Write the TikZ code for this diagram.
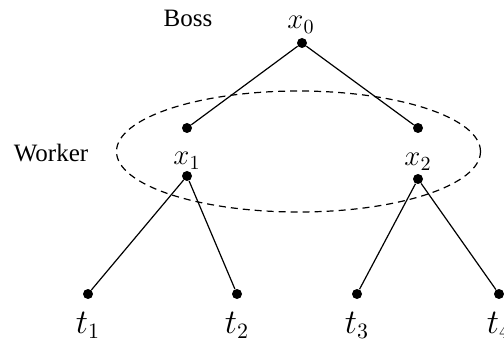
\documentclass[tikz,border=0pt]{standalone}
\usepackage{amsmath}
\usepackage{fontspec}
\setmainfont{Liberation Serif}
\usetikzlibrary{positioning}

\begin{document}
\begin{tikzpicture}[x=0.5pt, y=-0.5pt,
    dot/.style={circle, fill=black, inner sep=0pt, minimum size=5pt},
    edge/.style={line width=0.6pt},
    tag/.style={anchor=base, inner sep=0pt, font=\rmfamily\fontsize{12.5}{15}\selectfont},
    var/.style={anchor=base, inner sep=0pt, font=\fontsize{14}{16}\selectfont},
    leaf/.style={anchor=base, inner sep=0pt, font=\fontsize{16}{18}\selectfont}]
    \clip (0,0) rectangle (504,342);

    \node[dot] (x0) at (302,43) {};
    \node[dot] (x1top) at (187,128) {};
    \node[dot] (x2top) at (418,128) {};
    \node[dot] (x1) at (187,176) {};
    \node[dot] (x2) at (418,179) {};
    \node[dot] (t1) at (88,294) {};
    \node[dot] (t2) at (237,294) {};
    \node[dot] (t3) at (357,294) {};
    \node[dot] (t4) at (499,294) {};

    \node[tag] (boss) at (188,27) {Boss};
    \node[tag] (worker) at (51,162) {Worker};
    \node[var] (x0lab) at (301,29) {$x_0$};
    \node[var] (x1lab) at (187,165) {$x_1$};
    \node[var] (x2lab) at (418,166) {$x_2$};
    \node[leaf] (t1lab) at (88,333) {$t_1$};
    \node[leaf] (t2lab) at (237,333) {$t_2$};
    \node[leaf] (t3lab) at (357,333) {$t_3$};
    \node[leaf] (t4lab) at (499,333) {$t_4$};

    \draw[edge] (x0) -- (x1top);
    \draw[edge] (x0) -- (x2top);
    \draw[edge] (x1) -- (t1);
    \draw[edge] (x1) -- (t2);
    \draw[edge] (x2) -- (t3);
    \draw[edge] (x2) -- (t4);

    \draw[edge, dash pattern=on 3.5pt off 2.5pt] (298.5,151.5) ellipse [x radius=91pt, y radius=30.25pt];
\end{tikzpicture}
\end{document}
